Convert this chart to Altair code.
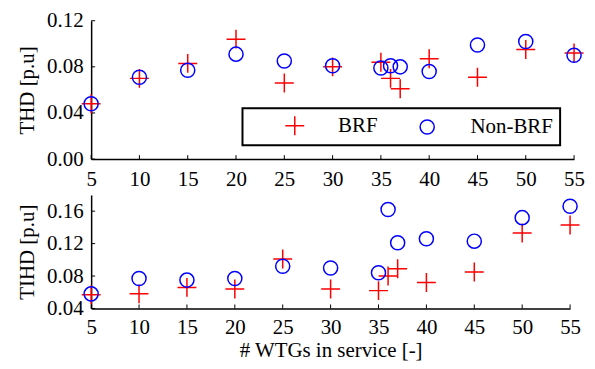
import altair as alt
import pandas as pd

X = [5, 10, 15, 20, 25, 30, 35, 36, 37, 40, 45, 50, 55]
THD_BRF = [0.048, 0.070, 0.083, 0.104, 0.066, 0.080, 0.084, 0.070, 0.061, 0.087, 0.071, 0.095, 0.092]
THD_NON = [0.048, 0.071, 0.077, 0.091, 0.085, 0.081, 0.079, 0.081, 0.080, 0.076, 0.099, 0.102, 0.090]
TIHD_BRF = [0.057, 0.058, 0.066, 0.064, 0.101, 0.064, 0.062, 0.080, 0.089, 0.072, 0.085, 0.133, 0.143]
TIHD_NON = [0.058, 0.077, 0.075, 0.077, 0.092, 0.090, 0.084, 0.162, 0.121, 0.126, 0.123, 0.152, 0.166]

XTICKS = [5, 10, 15, 20, 25, 30, 35, 40, 45, 50, 55]
Y1TICKS = [0.0, 0.04, 0.08, 0.12]
Y2TICKS = [0.04, 0.08, 0.12, 0.16]
SERIES = ["BRF", "Non-BRF"]

FONT = "Liberation Serif"
FS = 21
PLUS = "M-1,0L1,0M0,-1L0,1"

top_df = pd.DataFrame({"x": X * 2, "y": THD_BRF + THD_NON,
                       "series": ["BRF"] * len(X) + ["Non-BRF"] * len(X)})
bot_df = pd.DataFrame({"x": X * 2, "y": TIHD_BRF + TIHD_NON,
                       "series": ["BRF"] * len(X) + ["Non-BRF"] * len(X)})
xt_df = pd.DataFrame({"x": XTICKS})


def panel(df, yticks, ydomain, ytitle, xtitle, w, h, legend, lpad, tpad):
    xaxis = alt.Axis(values=XTICKS, title=xtitle, labelPadding=lpad, titlePadding=tpad, labelFlush=False)
    yaxis = alt.Axis(values=yticks, format=".2f", title=ytitle, labelPadding=8, titlePadding=9)
    xs = alt.Scale(domain=[5, 55], nice=False, zero=False)
    ys = alt.Scale(domain=ydomain, nice=False, zero=False)
    pts = alt.Chart(df).mark_point(filled=False, strokeWidth=1.5, opacity=1).encode(
        x=alt.X("x:Q", scale=xs, axis=xaxis),
        y=alt.Y("y:Q", scale=ys, axis=yaxis),
        color=alt.Color("series:N", scale=alt.Scale(domain=SERIES, range=["#ff0000", "#0000ff"]), legend=legend),
        shape=alt.Shape("series:N", scale=alt.Scale(domain=SERIES, range=[PLUS, "circle"]), legend=legend),
        size=alt.Size("series:N", scale=alt.Scale(domain=SERIES, range=[360, 200]), legend=legend),
    )
    xt = alt.Chart(xt_df).mark_rule(color="black", strokeWidth=1).encode(
        x=alt.X("x:Q", scale=xs, axis=xaxis),
        y=alt.value(h),
        y2=alt.value(h - 4),
    )
    yt_df = pd.DataFrame({"y": yticks})
    yt = alt.Chart(yt_df).mark_rule(color="black", strokeWidth=1).encode(
        y=alt.Y("y:Q", scale=ys, axis=yaxis),
        x=alt.value(0),
        x2=alt.value(4),
    )
    return alt.layer(xt, yt, pts).properties(width=w, height=h)


leg = alt.Legend(title=None, orient="none", legendX=152, legendY=88, direction="horizontal",
                 strokeColor="black", padding=7, symbolOffset=35, labelOffset=33,
                 columnPadding=4, labelFont=FONT, labelFontSize=FS, labelColor="black",
                 symbolStrokeWidth=1.5,
                 labelExpr="datum.label == 'Non-BRF' ? datum.label + ' ' : datum.label")

top = panel(top_df, Y1TICKS, [0, 0.12], "THD [p.u]", None, 485, 139, leg, 10, 0)
bot = panel(bot_df, Y2TICKS, [0.04, 0.18], "TIHD [p.u]", "# WTGs in service [-]", 481, 114, None, 8, 2)

chart = alt.vconcat(top, bot, spacing=5).resolve_scale(
    color="independent", shape="independent", size="independent"
).properties(padding={"top": 1, "left": 8.5, "right": 0, "bottom": 0}).configure_axis(
    labelFont=FONT, labelFontSize=FS, labelColor="black",
    titleFont=FONT, titleFontSize=FS, titleFontWeight="normal", titleColor="black",
    domainColor="black", domainWidth=1.5, ticks=False, grid=False,
).configure_view(stroke=None).configure_legend(strokeWidth=2)

chart.save("out.html", embed_options={"renderer": "svg", "actions": False})
